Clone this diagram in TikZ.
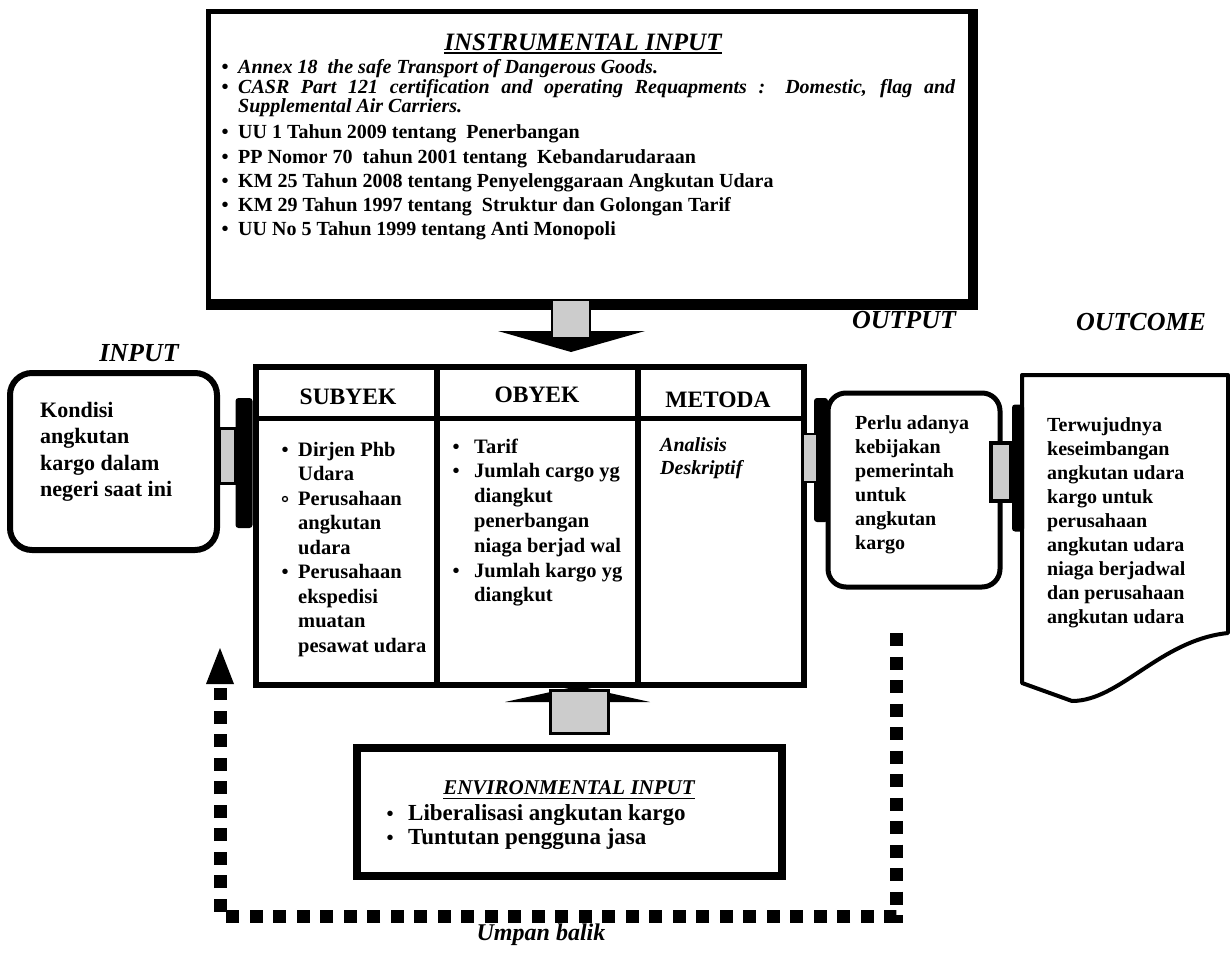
\documentclass[tikz,border=0pt]{standalone}
\usepackage{fontspec}
\setmainfont{Liberation Serif}
\usetikzlibrary{calc}
\newcommand{\fsz}[2]{\fontsize{#1}{#2}\selectfont}
\begin{document}
\begin{tikzpicture}[x=1pt,y=-1pt,
  box/.style={draw,inner sep=0pt},
  ln/.style={inner sep=0pt,anchor=base west,font=\fsz{20.5}{24.5}\bfseries},
  lni/.style={inner sep=0pt,anchor=base west,font=\fsz{20}{24}\bfseries\itshape},
  lbl/.style={inner sep=0pt,font=\fsz{26}{30}\bfseries\itshape},
  hdr/.style={inner sep=0pt,font=\fsz{23.5}{28}\bfseries},
  bul/.style={inner sep=0pt,anchor=base,font=\fsz{20}{24}\bfseries},
  conn/.style={draw,fill=gray!40,inner sep=0pt},
  bar/.style={fill=black,inner sep=0pt,rounded corners=3pt},
  fb/.style={line width=13pt,dash pattern=on 13pt off 10.5pt}]
\useasboundingbox (0,0) rectangle (1230,957);
\fill[white] (0,0) rectangle (1230,957);

% ---------- instrumental input ----------
\node[box,line width=5pt,minimum width=762pt,minimum height=290pt] (instr) at (589,157) {};
\draw[line width=10pt] (instr.north east) -- (instr.south east) -- (instr.south west);
\node[inner sep=0pt,font=\fsz{25}{30}\bfseries\itshape] (ititle) at (583,42) {INSTRUMENTAL INPUT};
\draw[line width=2pt] ($(ititle.base west)+(0,3)$) -- ($(ititle.base east)+(0,3)$);
\node[lni] (i1) at (238,74) {Annex 18\ \ the safe Transport of Dangerous Goods.};
\node[lni] (i2) at (238,94) {\makebox[717pt][s]{CASR Part 121 certification and operating Requapments : Domestic, flag and}};
\node[lni] (i3) at (238,113) {Supplemental Air Carriers.};
\foreach \t [count=\i] in {UU 1 Tahun 2009 tentang\ \ Penerbangan,
  PP Nomor 70\ \ tahun 2001 tentang\ \ Kebandarudaraan,
  KM 25 Tahun 2008 tentang Penyelenggaraan Angkutan Udara,
  KM 29 Tahun 1997 tentang\ \ Struktur dan Golongan Tarif,
  UU No 5 Tahun 1999 tentang Anti Monopoli}
  \node[ln,font=\fsz{20}{24}\bfseries] (iu\i) at (238,{139+24.2*(\i-1)}) {\t};
\foreach \y [count=\i] in {74,94,139,163.2,187.4,211.6,235.8}
  \node[bul] (ib\i) at (225,\y) {\textbullet};

% down arrow
\coordinate (dtop) at (571,300);
\fill (498,331) -- (645,331) -- (571,352) -- cycle;
\draw[line width=2.5pt,fill=gray!40] ($(dtop)+(-19,0)$) rectangle ($(dtop)+(19,38)$);

% ---------- main table ----------
\node[box,line width=6pt,minimum width=548pt,minimum height=318pt] (tab) at (530,526) {};
\draw[line width=6pt] (437,367) -- (437,685) (638,367) -- (638,685);
\draw[line width=5pt] (256,418) -- (804,418);
\node[hdr] (hsub) at (348,397) {SUBYEK};
\node[hdr] (hobj) at (537,395) {OBYEK};
\node[hdr] (hmet) at (718,400) {METODA};

\foreach \t [count=\i] in {Dirjen Phb,Udara,Perusahaan,angkutan,udara,Perusahaan,ekspedisi,muatan,pesawat udara}
  \node[ln] (s\i) at (298,{456+24.5*(\i-1)}) {\t};
\node[bul] (sb1) at (285,456) {\textbullet};
\node[circle,draw,line width=1.3pt,inner sep=0pt,minimum size=5pt] (sb2) at (285,499) {};
\node[bul] (sb3) at (285,578.5) {\textbullet};

\foreach \t [count=\i] in {Tarif,Jumlah cargo yg,diangkut,penerbangan,niaga berjad wal,Jumlah kargo yg,diangkut}
  \node[ln] (o\i) at (474,{453+24.8*(\i-1)}) {\t};
\node[bul] (ob1) at (456,453) {\textbullet};
\node[bul] (ob2) at (456,477.8) {\textbullet};
\node[bul] (ob3) at (456,577) {\textbullet};

\node[lni] (m1) at (660,451) {Analisis};
\node[lni] (m2) at (660,474) {Deskriptif};

% ---------- input ----------
\node[lbl] (linput) at (139,353) {INPUT};
\node[box,line width=6pt,rounded corners=22pt,minimum width=207pt,minimum height=177pt] (inbox) at (113.5,461.5) {};
\foreach \t [count=\i] in {Kondisi,angkutan,kargo dalam,negeri saat ini}
  \node[ln,font=\fsz{22}{26}\bfseries] (k\i) at (40,{417+26.5*(\i-1)}) {\t};
\node[bar,minimum width=17pt,minimum height=130pt] (lbar) at (244,463) {};
\node[conn,line width=3pt,minimum width=16pt,minimum height=55pt] (lcon) at (227,456) {};

% ---------- output ----------
\node[lbl] (loutput) at (904,320) {OUTPUT};
\node[box,line width=5pt,rounded corners=18pt,minimum width=172pt,minimum height=194pt] (outbox) at (914,490) {};
\foreach \t [count=\i] in {Perlu adanya,kebijakan,pemerintah,untuk,angkutan,kargo}
  \node[ln,font=\fsz{20}{24}\bfseries] (p\i) at (855,{429+24*(\i-1)}) {\t};
\node[bar,minimum width=14pt,minimum height=124pt] (obar) at (821,460) {};
\node[conn,line width=2.5pt,minimum width=14pt,minimum height=48pt] (ocon) at (810,458) {};

% ---------- outcome ----------
\node[lbl] (loutcome) at (1141,322) {OUTCOME};
\draw[line width=4pt,line join=round] (1022,375) -- (1228,375) -- (1228,633)
  .. controls (1160,640) and (1120,701) .. (1072,701) -- (1022,683) -- cycle;
\foreach \t [count=\i] in {Terwujudnya,keseimbangan,angkutan udara,kargo untuk,perusahaan,angkutan udara,niaga berjadwal,dan perusahaan,angkutan udara}
  \node[ln,font=\fsz{20}{24}\bfseries] (t\i) at (1047,{431+24*(\i-1)}) {\t};
\node[bar,minimum width=12pt,minimum height=127pt] (cbar) at (1018,468) {};
\node[conn,line width=4pt,minimum width=20pt,minimum height=58pt] (ccon) at (1001,472) {};

% ---------- environmental input ----------
\node[box,line width=8pt,minimum width=425pt,minimum height=128pt] (env) at (569.5,812) {};
\node[inner sep=0pt,font=\fsz{21}{25}\bfseries\itshape] (etitle) at (569,788) {ENVIRONMENTAL INPUT};
\draw[line width=1.6pt] ($(etitle.base west)+(0,3.5)$) -- ($(etitle.base east)+(0,3.5)$);
\node[ln,font=\fsz{23}{27}\bfseries] (e1) at (408,820) {Liberalisasi angkutan kargo};
\node[ln,font=\fsz{23}{27}\bfseries] (e2) at (408,844) {Tuntutan pengguna jasa};
\node[bul] (eb1) at (390,820) {\textbullet};
\node[bul] (eb2) at (390,844) {\textbullet};

% up arrow
\fill (505,702) -- (650,702) -- (578,686) -- cycle;
\draw[line width=3pt,fill=gray!40] (550,690) rectangle (608,733);

% ---------- feedback ----------
\coordinate (fbs) at (896,633);
\coordinate (fbc) at (220,916);
\coordinate (fbe) at (220,688);
\draw[fb] (fbs) |- (fbc) -- (fbe);
\fill (206,684) -- (234,684) -- (220,648) -- cycle;
\node[inner sep=0pt,font=\fsz{24}{28}\bfseries\itshape] (umpan) at (541,935) {Umpan balik};
\end{tikzpicture}
\end{document}
